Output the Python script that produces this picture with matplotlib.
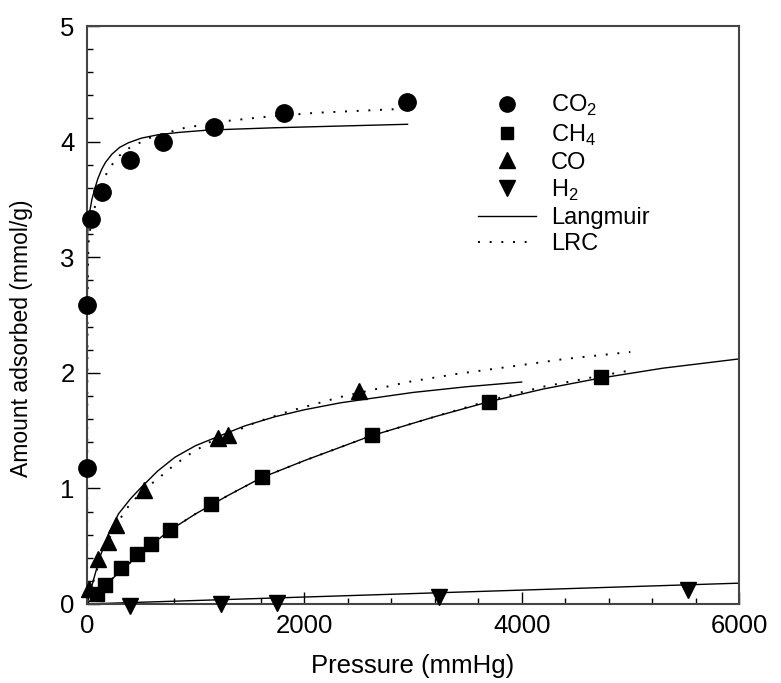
import numpy as np
import matplotlib
matplotlib.use('Agg')
import matplotlib.pyplot as plt
from matplotlib.ticker import MultipleLocator
from matplotlib.lines import Line2D

plt.rcParams['font.family'] = ['Liberation Sans', 'DejaVu Sans']

# measured points
co2_p = [0, 0, 34, 135, 396, 703, 1173, 1816, 2947]
co2_q = [1.18, 2.59, 3.33, 3.56, 3.84, 4.00, 4.13, 4.25, 4.34]
ch4_p = [95, 163, 317, 463, 593, 762, 1140, 1610, 2620, 3700, 4730]
ch4_q = [0.085, 0.165, 0.315, 0.43, 0.52, 0.64, 0.865, 1.095, 1.465, 1.75, 1.96]
co_p = [15, 100, 190, 265, 527, 1207, 1300, 2500]
co_q = [0.13, 0.385, 0.54, 0.685, 0.985, 1.435, 1.46, 1.84]
h2_p = [400, 1230, 1750, 3240, 5530]
h2_q = [-0.02, 0.0, 0.01, 0.06, 0.12]

# fitted curves
co2_lang_p = [0, 1, 3, 6, 12, 28, 45, 74, 100, 135, 170, 228, 300, 381, 500, 657, 850, 1118, 1733, 2950]
co2_lang_q = [0, 1.2, 2.6, 3.21, 3.30, 3.41, 3.50, 3.60, 3.68, 3.76, 3.82, 3.89, 3.95, 3.99, 4.03, 4.06, 4.08, 4.10, 4.12, 4.15]
co2_lrc_p = [0, 2, 5, 12, 40, 74, 120, 166, 221, 300, 396, 596, 903, 1302, 1594, 2117, 2823, 2950]
co2_lrc_q = [0, 1.5, 2.6, 3.11, 3.32, 3.44, 3.60, 3.70, 3.79, 3.88, 3.95, 4.04, 4.12, 4.18, 4.21, 4.25, 4.28, 4.29]
ch4_lang_p = [0, 100, 200, 350, 500, 750, 1000, 1300, 1600, 2000, 2600, 3200, 3700, 4200, 4700, 5300, 6000]
ch4_lang_q = [0, 0.10, 0.19, 0.32, 0.44, 0.63, 0.78, 0.94, 1.09, 1.24, 1.45, 1.62, 1.75, 1.86, 1.95, 2.04, 2.12]
ch4_lrc_p = [0, 100, 200, 350, 500, 750, 1000, 1300, 1600, 2000, 2600, 3200, 3700, 4200, 4700, 5000]
ch4_lrc_q = [0, 0.10, 0.19, 0.32, 0.44, 0.63, 0.78, 0.94, 1.09, 1.24, 1.45, 1.62, 1.76, 1.88, 1.97, 2.02]
co_lang_p = [0, 60, 120, 200, 290, 400, 500, 650, 810, 1000, 1210, 1450, 1730, 2000, 2330, 2700, 3000, 3500, 4000]
co_lang_q = [0, 0.21, 0.41, 0.61, 0.78, 0.91, 1.01, 1.15, 1.27, 1.37, 1.45, 1.54, 1.62, 1.68, 1.74, 1.79, 1.83, 1.88, 1.92]
co_lrc_p = [0, 60, 120, 200, 350, 500, 660, 800, 950, 1130, 1330, 1550, 1870, 2330, 2950, 3400, 3870, 4400, 5000]
co_lrc_q = [0, 0.20, 0.38, 0.56, 0.81, 0.97, 1.09, 1.20, 1.30, 1.40, 1.48, 1.57, 1.67, 1.79, 1.92, 1.99, 2.05, 2.12, 2.18]
h2_lang_p = [0, 6000]
h2_lang_q = [0, 0.18]

fig = plt.figure(figsize=(7.81, 6.83), dpi=100)
ax = fig.add_axes([0.1114, 0.1157, 0.8348, 0.8462])

dot = (0, (1, 5))
for p, q in [(co2_lang_p, co2_lang_q), (ch4_lang_p, ch4_lang_q),
             (co_lang_p, co_lang_q), (h2_lang_p, h2_lang_q)]:
    ax.plot(p, q, color='black', lw=1.0)
for p, q in [(co2_lrc_p, co2_lrc_q), (ch4_lrc_p, ch4_lrc_q), (co_lrc_p, co_lrc_q)]:
    ax.plot(p, q, color='black', lw=1.4, linestyle=dot)

ax.plot(co2_p, co2_q, 'o', color='black', ms=12.5, clip_on=False, zorder=5)
ax.plot(ch4_p, ch4_q, 's', color='black', ms=10.5, clip_on=False, zorder=5)
ax.plot(co_p, co_q, '^', color='black', ms=12, clip_on=False, zorder=5)
ax.plot(h2_p, h2_q, 'v', color='black', ms=12, clip_on=False, zorder=5)

ax.set_xlim(0, 6000)
ax.set_ylim(0, 5)
ax.xaxis.set_major_locator(MultipleLocator(2000))
ax.xaxis.set_minor_locator(MultipleLocator(400))
ax.yaxis.set_major_locator(MultipleLocator(1))
ax.yaxis.set_minor_locator(MultipleLocator(0.2))
ax.tick_params(which='both', direction='in', top=False, right=False, labelsize=18.5)
ax.tick_params(axis='x', pad=7)
ax.tick_params(axis='y', pad=9)
ax.tick_params(which='major', length=9, width=1)
ax.tick_params(which='minor', length=4.5, width=1)
for s in ax.spines.values():
    s.set_linewidth(1.5)
    s.set_color('#444444')

ax.set_xlabel('Pressure (mmHg)', fontsize=18.5, labelpad=12)
ax.set_ylabel('Amount adsorbed (mmol/g)', fontsize=16.5)
ax.yaxis.set_label_coords(-0.083, 0.46)

handles = [
    Line2D([], [], marker='o', color='black', ls='none', ms=11),
    Line2D([], [], marker='s', color='black', ls='none', ms=9),
    Line2D([], [], marker='^', color='black', ls='none', ms=11),
    Line2D([], [], marker='v', color='black', ls='none', ms=11),
    Line2D([], [], color='black', lw=1.0),
    Line2D([], [], color='black', lw=1.4, linestyle=dot),
]
labels = [r'CO$_\mathregular{2}$', r'CH$_\mathregular{4}$', 'CO', r'H$_\mathregular{2}$', 'Langmuir', 'LRC']
ax.legend(handles, labels, loc='upper left', bbox_to_anchor=(0.585, 0.90), frameon=False,
          fontsize=17, handlelength=2.45, labelspacing=0.17, handletextpad=0.65,
          borderaxespad=0)

fig.savefig('out.png', dpi=100)
